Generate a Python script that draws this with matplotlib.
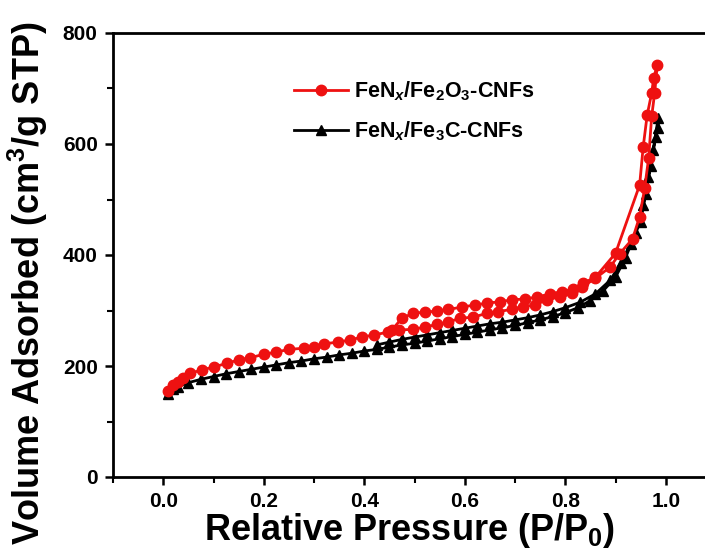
import matplotlib
matplotlib.use("Agg")
import matplotlib.pyplot as plt
from matplotlib.ticker import MultipleLocator

plt.rcParams['font.family'] = ['Liberation Sans', 'DejaVu Sans']
plt.rcParams['font.weight'] = 'bold'
plt.rcParams['mathtext.fontset'] = 'custom'
plt.rcParams['mathtext.rm'] = 'Liberation Sans:bold'
plt.rcParams['mathtext.bf'] = 'Liberation Sans:bold'
plt.rcParams['mathtext.it'] = 'Liberation Sans:bold:italic'

# FeNx/Fe2O3-CNFs (adsorption then desorption)
red_p = [0.01, 0.02, 0.03, 0.04, 0.054, 0.077, 0.10, 0.127, 0.15, 0.173, 0.20, 0.225, 0.25,
         0.28, 0.30, 0.32, 0.348, 0.372, 0.395, 0.42, 0.447, 0.47, 0.497, 0.52, 0.545, 0.567,
         0.59, 0.617, 0.644, 0.666, 0.694, 0.716, 0.74, 0.763, 0.79, 0.813, 0.833, 0.86,
         0.889, 0.908, 0.934, 0.948, 0.958, 0.966, 0.972, 0.978, 0.983,
         0.976, 0.972, 0.963, 0.955, 0.948, 0.90, 0.86, 0.835, 0.815, 0.793, 0.77, 0.743,
         0.72, 0.694, 0.67, 0.644, 0.62, 0.594, 0.567, 0.545, 0.52, 0.497, 0.475, 0.455]
red_v = [155, 165, 172, 178, 187, 193, 198, 205, 211, 215, 221, 225, 230,
         232, 234, 240, 243, 247, 252, 256, 261, 265, 266, 270, 275, 279,
         286, 288, 295, 298, 302, 307, 310, 319, 325, 331, 342, 358,
         378, 402, 429, 469, 520, 575, 650, 692, 742,
         719, 692, 652, 594, 526, 403, 360, 349, 338, 334, 330, 324,
         321, 319, 316, 313, 310, 306, 302, 299, 297, 295, 286, 265]

# FeNx/Fe3C-CNFs (adsorption then desorption)
blk_p = [0.01, 0.02, 0.03, 0.05, 0.075, 0.10, 0.125, 0.15, 0.175, 0.20, 0.225, 0.25, 0.275,
         0.30, 0.325, 0.35, 0.375, 0.40, 0.425, 0.45, 0.475, 0.50, 0.525, 0.55, 0.575, 0.60,
         0.625, 0.65, 0.675, 0.70, 0.725, 0.75, 0.775, 0.80, 0.825, 0.85, 0.875, 0.90, 0.92,
         0.94, 0.955, 0.965, 0.975, 0.985,
         0.985, 0.98, 0.97, 0.96, 0.95, 0.93, 0.91, 0.89, 0.86, 0.83, 0.80, 0.775, 0.75,
         0.725, 0.70, 0.675, 0.65, 0.625, 0.60, 0.575, 0.55, 0.525, 0.50, 0.475, 0.45, 0.425]
blk_v = [150, 158, 163, 170, 176, 181, 186, 190, 194, 198, 202, 206, 209,
         213, 216, 220, 223, 227, 230, 234, 238, 241, 245, 249, 253, 257,
         261, 265, 269, 273, 278, 283, 289, 296, 305, 318, 335, 360, 395,
         440, 490, 540, 590, 647,
         629, 613, 560, 510, 460, 420, 385, 355, 330, 315, 305, 298, 292,
         287, 283, 279, 276, 272, 268, 264, 260, 256, 252, 248, 243, 238]

labels = [r'FeN$_{x}$/Fe$_{2}$O$_{3}$-CNFs', r'FeN$_{x}$/Fe$_{3}$C-CNFs']
x_ticks = [0.0, 0.2, 0.4, 0.6, 0.8, 1.0]
y_ticks = [0, 200, 400, 600, 800]

fig = plt.figure(figsize=(7.05, 5.59), dpi=100)
W, H = 705, 559
ax = fig.add_axes([113 / W, (H - 477) / H, 603 / W, 444 / H])

ax.plot(blk_p, blk_v, color='black', marker='^', ms=7.5, lw=2, label=labels[1], zorder=2)
ax.plot(red_p, red_v, color='#ee1111', marker='o', ms=7.5, lw=2, label=labels[0], zorder=3)

ax.set_xlim(-0.1, 1.1)
ax.set_ylim(0, 800)
ax.set_xticks(x_ticks)
ax.set_xticklabels([f'{t:.1f}' for t in x_ticks])
ax.set_yticks(y_ticks)
ax.xaxis.set_minor_locator(MultipleLocator(0.1))
ax.yaxis.set_minor_locator(MultipleLocator(100))
ax.tick_params(which='major', direction='out', length=6, width=1.8, labelsize=15, pad=5)
ax.tick_params(which='minor', direction='out', length=4, width=1.5)
ax.tick_params(top=False, right=False, which='both')
for s in ax.spines.values():
    s.set_linewidth(2)

ax.set_xlabel('Relative Pressure (P/P$_{0}$)', fontsize=26, fontweight='bold')
ax.set_ylabel('Volume Adsorbed (cm$^{3}$/g STP)', fontsize=26, fontweight='bold')
ax.xaxis.set_label_coords((410 - 113) / 603, -(530 - 477) / 444)
ax.yaxis.set_label_coords(-(113 - 28) / 603, (477 - 283) / 444)
ax.xaxis.label.set_va('center')
ax.yaxis.label.set_va('center')

h, l = ax.get_legend_handles_labels()
ax.legend([h[1], h[0]], [l[1], l[0]], loc='upper left', bbox_to_anchor=(0.3, 0.895),
          frameon=False, fontsize=15.5, handlelength=2.5, handletextpad=0.3,
          borderpad=0, borderaxespad=0, labelspacing=0.75)

fig.savefig('out.png', dpi=100)
